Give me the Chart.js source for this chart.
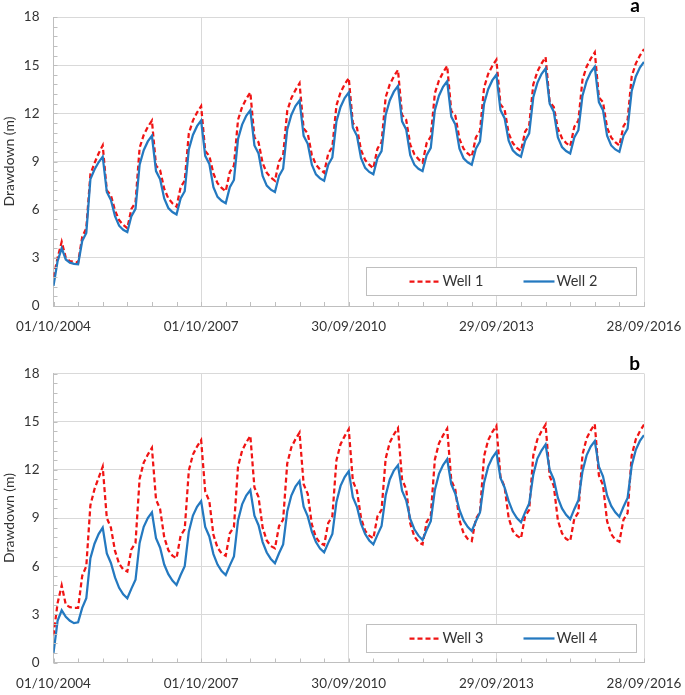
<!DOCTYPE html>
<html><head><meta charset="utf-8">
<script src="https://cdn.jsdelivr.net/npm/chart.js@4.4.0/dist/chart.umd.min.js"></script>
<style>
html,body{margin:0;padding:0;background:#fff;width:685px;height:695px;overflow:hidden}
.panel{position:absolute;left:0}
</style></head><body>
<div class="panel" style="top:0"><canvas id="ca" width="685" height="345"></canvas></div>
<div class="panel" style="top:345px"><canvas id="cb" width="685" height="350"></canvas></div>
<script>
// Month index 0 = 01/10/2004 ... 144 = 28/09/2016 (monthly values)
const xTickMonths = [0, 36, 72, 108, 144];
const xTickLabels = ['01/10/2004', '01/10/2007', '30/09/2010', '29/09/2013', '28/09/2016'];
const yTicks = [0, 3, 6, 9, 12, 15, 18];

const well1 = [
  1.8, 3.0, 4.0, 3.0, 2.8, 2.75, 2.7, 4.3, 4.85, 8.2, 8.9, 9.5, 10.0,
  7.2, 6.9, 5.95, 5.35, 5.05, 4.85, 6.05, 6.45, 9.85, 10.65, 11.15, 11.55,
  8.75, 8.45, 7.3, 6.7, 6.4, 6.18, 7.4, 7.8, 10.75, 11.55, 12.05, 12.45,
  9.65, 9.35, 8.25, 7.65, 7.35, 7.15, 8.35, 8.75, 11.6, 12.4, 12.9, 13.3,
  10.5, 10.2, 8.9, 8.3, 8.0, 7.8, 9.0, 9.4, 12.15, 12.95, 13.45, 13.87,
  11.05, 10.75, 9.4, 8.8, 8.5, 8.3, 9.5, 9.9, 12.5, 13.3, 13.8, 14.2,
  11.4, 11.1, 9.7, 9.1, 8.8, 8.58, 9.8, 10.2, 13.0, 13.8, 14.3, 14.7,
  11.9, 11.6, 10.05, 9.45, 9.15, 8.93, 10.15, 10.55, 13.25, 14.05, 14.55, 14.95,
  12.15, 11.85, 10.4, 9.8, 9.5, 9.3, 10.5, 10.9, 13.6, 14.45, 14.95, 15.33,
  12.55, 12.25, 10.75, 10.15, 9.85, 9.66, 10.85, 11.25, 13.8, 14.6, 15.1, 15.5,
  12.7, 12.4, 11.05, 10.45, 10.15, 9.95, 11.15, 11.55, 14.1, 14.9, 15.4, 15.8,
  13.0, 12.7, 11.1, 10.5, 10.2, 10.0, 11.2, 11.6, 14.3, 15.1, 15.6, 16.0
];
const well2 = [
  1.25, 2.8, 3.6, 2.9, 2.7, 2.62, 2.6, 4.05, 4.55, 7.9, 8.5, 8.95, 9.3,
  7.1, 6.6, 5.6, 5.0, 4.75, 4.6, 5.6, 6.05, 8.8, 9.7, 10.25, 10.6,
  8.4, 7.9, 6.7, 6.1, 5.85, 5.7, 6.7, 7.15, 9.75, 10.65, 11.2, 11.55,
  9.35, 8.85, 7.4, 6.8, 6.55, 6.4, 7.4, 7.85, 10.4, 11.3, 11.85, 12.2,
  10.0, 9.5, 8.1, 7.5, 7.25, 7.1, 8.1, 8.55, 11.0, 11.9, 12.45, 12.8,
  10.6, 10.1, 8.8, 8.2, 7.95, 7.8, 8.8, 9.25, 11.5, 12.4, 12.95, 13.3,
  11.1, 10.6, 9.2, 8.6, 8.35, 8.2, 9.2, 9.65, 11.9, 12.8, 13.35, 13.7,
  11.5, 11.0, 9.4, 8.8, 8.55, 8.4, 9.4, 9.85, 12.2, 13.1, 13.65, 14.0,
  11.8, 11.3, 9.8, 9.2, 8.95, 8.8, 9.8, 10.25, 12.6, 13.5, 14.05, 14.4,
  12.2, 11.7, 10.3, 9.7, 9.45, 9.3, 10.3, 10.75, 13.0, 13.9, 14.45, 14.8,
  12.6, 12.1, 10.5, 9.9, 9.65, 9.5, 10.5, 10.95, 13.1, 14.0, 14.55, 14.9,
  12.7, 12.2, 10.6, 10.0, 9.75, 9.6, 10.6, 11.05, 13.4, 14.3, 14.85, 15.2
];
const well3 = [
  1.7, 3.7, 4.8, 3.6, 3.45, 3.4, 3.4, 5.4, 6.0, 9.8, 10.8, 11.5, 12.19,
  9.0, 8.4, 6.95, 6.15, 5.8, 5.66, 7.05, 7.45, 11.45, 12.45, 12.95, 13.37,
  10.15, 9.55, 7.8, 7.0, 6.65, 6.49, 7.9, 8.3, 11.95, 12.95, 13.45, 13.85,
  10.65, 10.05, 7.95, 7.15, 6.8, 6.65, 8.05, 8.45, 12.2, 13.2, 13.7, 14.12,
  10.9, 10.3, 8.4, 7.6, 7.25, 7.11, 8.5, 8.9, 12.4, 13.4, 13.9, 14.32,
  11.1, 10.5, 8.6, 7.8, 7.45, 7.32, 8.7, 9.1, 12.6, 13.6, 14.1, 14.53,
  11.3, 10.7, 9.0, 8.2, 7.9, 7.73, 9.1, 9.5, 12.7, 13.7, 14.2, 14.6,
  11.4, 10.8, 8.65, 7.85, 7.5, 7.36, 8.75, 9.15, 12.65, 13.65, 14.15, 14.57,
  11.35, 10.75, 8.85, 8.05, 7.7, 7.57, 8.95, 9.35, 12.85, 13.85, 14.35, 14.74,
  11.55, 10.95, 9.0, 8.2, 7.9, 7.73, 9.1, 9.5, 12.9, 13.9, 14.4, 14.82,
  11.6, 11.0, 8.85, 8.05, 7.7, 7.57, 8.95, 9.35, 12.95, 13.95, 14.45, 14.84,
  11.65, 11.05, 8.8, 8.0, 7.65, 7.52, 8.9, 9.3, 12.9, 13.9, 14.4, 14.82
];
const well4 = [
  0.6, 2.6, 3.25, 2.85, 2.6, 2.45, 2.5, 3.4, 4.0, 6.5, 7.4, 8.0, 8.4,
  6.8, 6.2, 5.3, 4.65, 4.25, 4.0, 4.6, 5.15, 7.45, 8.45, 9.0, 9.35,
  7.75, 7.15, 6.1, 5.5, 5.1, 4.83, 5.45, 6.0, 8.15, 9.15, 9.7, 10.05,
  8.45, 7.85, 6.75, 6.1, 5.7, 5.45, 6.05, 6.6, 8.85, 9.85, 10.4, 10.74,
  9.15, 8.55, 7.5, 6.85, 6.45, 6.18, 6.8, 7.35, 9.4, 10.4, 10.95, 11.3,
  9.7, 9.1, 8.15, 7.5, 7.1, 6.86, 7.45, 8.0, 10.0, 11.0, 11.55, 11.92,
  10.3, 9.7, 8.65, 8.0, 7.6, 7.36, 7.95, 8.5, 10.4, 11.4, 11.95, 12.29,
  10.7, 10.1, 8.95, 8.3, 7.9, 7.63, 8.25, 8.8, 10.75, 11.75, 12.3, 12.67,
  11.1, 10.5, 9.5, 8.85, 8.45, 8.19, 8.8, 9.35, 11.2, 12.2, 12.75, 13.12,
  11.5, 10.9, 10.05, 9.4, 9.0, 8.73, 9.35, 9.9, 11.7, 12.7, 13.2, 13.58,
  12.0, 11.4, 10.25, 9.6, 9.2, 8.93, 9.55, 10.1, 11.9, 12.9, 13.45, 13.79,
  12.2, 11.6, 10.4, 9.75, 9.35, 9.08, 9.7, 10.25, 12.25, 13.25, 13.8, 14.16
];

const RED = '#f01414';
const BLUE = '#2479c0';
const TXT = '#333333';
const GRID = '#d9d9d9';
const AXIS = '#bfbfbf';
const FONT = 'Lato';

const decor = {
  id: 'decor',
  afterDatasetsDraw(chart, args, o) {
    const {ctx, chartArea: a, scales: {x, y}} = chart;
    ctx.save();
    // minor tick marks
    ctx.strokeStyle = AXIS; ctx.lineWidth = 1; ctx.setLineDash([]);
    ctx.beginPath();
    for (let m = x.min; m <= x.max; m += 6) {
      const px = Math.round(x.getPixelForValue(m)) + 0.5;
      ctx.moveTo(px, a.bottom); ctx.lineTo(px, a.bottom - 4);
    }
    for (let v = y.min; v <= y.max + 1e-9; v += 0.6) {
      const py = Math.round(y.getPixelForValue(v)) + 0.5;
      ctx.moveTo(a.left, py); ctx.lineTo(a.left + 4, py);
    }
    ctx.stroke();
    // legend box
    const x0 = Math.round(a.right - 278) + 0.5, h = 28, y0 = Math.round(a.bottom - 39) + 0.5;
    ctx.fillStyle = '#fff'; ctx.fillRect(x0, y0, 270, h);
    ctx.strokeStyle = AXIS; ctx.strokeRect(x0, y0, 270, h);
    const yc = y0 + h / 2;
    ctx.lineWidth = 2.25;
    ctx.strokeStyle = RED; ctx.setLineDash([5, 3]);
    ctx.beginPath(); ctx.moveTo(x0 + 43, yc); ctx.lineTo(x0 + 75, yc); ctx.stroke();
    ctx.strokeStyle = BLUE; ctx.setLineDash([]);
    ctx.beginPath(); ctx.moveTo(x0 + 157, yc); ctx.lineTo(x0 + 188, yc); ctx.stroke();
    ctx.fillStyle = TXT; ctx.font = '14.5px ' + FONT; ctx.textBaseline = 'middle'; ctx.textAlign = 'left';
    ctx.fillText(o.names[0], x0 + 76, yc);
    ctx.fillText(o.names[1], x0 + 190, yc);
    // panel letter
    ctx.fillStyle = '#000'; ctx.font = 'bold 19px ' + FONT; ctx.textAlign = 'right'; ctx.textBaseline = 'alphabetic';
    ctx.fillText(o.letter, 640, o.letterY);
    ctx.restore();
  }
};

function makeChart(id, s1, s2, names, letter, letterY, padTop, xAxisH) {
  const months = s1.map((_, i) => i);
  new Chart(document.getElementById(id), {
    type: 'line',
    data: {
      datasets: [
        { label: names[0], data: months.map((m, i) => ({x: m, y: s1[i]})), borderColor: RED, borderDash: [5, 3], borderWidth: 2.25, order: 1 },
        { label: names[1], data: months.map((m, i) => ({x: m, y: s2[i]})), borderColor: BLUE, borderWidth: 2.25, order: 0 }
      ]
    },
    options: {
      responsive: false, animation: false, devicePixelRatio: 1,
      layout: { padding: { top: padTop, right: 41, left: 0, bottom: 0 } },
      elements: { point: { radius: 0 }, line: { tension: 0, fill: false } },
      plugins: { legend: { display: false }, tooltip: { enabled: false },
        decor: { names, letter, letterY } },
      scales: {
        x: {
          type: 'linear', min: 0, max: 144,
          afterBuildTicks: s => { s.ticks = xTickMonths.map(v => ({value: v})); },
          afterFit: s => { s.height = xAxisH; s.paddingLeft = 0; s.paddingRight = 0; },
          grid: { color: GRID, drawTicks: false },
          border: { color: AXIS },
          ticks: { autoSkip: false, maxRotation: 0, padding: 13, color: TXT,
            font: { family: FONT, size: 13.5 },
            callback: v => xTickLabels[xTickMonths.indexOf(v)] }
        },
        y: {
          min: 0, max: 18,
          afterBuildTicks: s => { s.ticks = yTicks.map(v => ({value: v})); },
          afterFit: s => { s.width = 53.5; s.paddingTop = 0; s.paddingBottom = 0; },
          grid: { color: GRID, drawTicks: false },
          border: { color: AXIS },
          ticks: { padding: 14, color: TXT, font: { family: FONT, size: 13.5 } },
          title: { display: true, text: 'Drawdown (m)', color: TXT,
            font: { family: FONT, size: 14 }, padding: { top: 1, bottom: 0 } }
        }
      }
    },
    plugins: [decor]
  });
}

makeChart('ca', well1, well2, ['Well 1', 'Well 2'], 'a', 12, 17, 39);
makeChart('cb', well3, well4, ['Well 3', 'Well 4'], 'b', 25, 28.5, 32.5);
</script>
</body></html>
